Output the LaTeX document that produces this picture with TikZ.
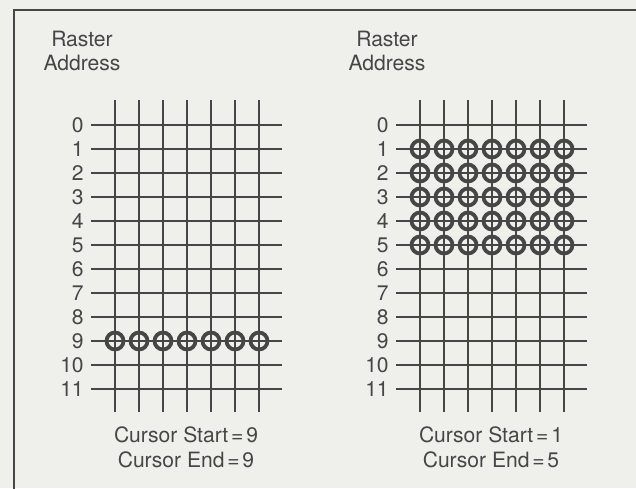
\documentclass[tikz,border=0pt]{standalone}
\usepackage{fontspec}
\setmainfont{TeX Gyre Heros}
\usetikzlibrary{positioning}
\definecolor{ink}{HTML}{464646}
\definecolor{paper}{HTML}{EFEFEC}

\begin{document}
\begin{tikzpicture}[
  x=0.025cm, y=-0.025cm,
  font=\fontsize{15}{17}\selectfont,
  text=ink,
  frame/.style={draw=ink, line width=1.6pt},
  gridline/.style={draw=ink, line width=2pt},
  cursorring/.style={draw=ink, line width=2.7pt},
  rowlabel/.style={anchor=east, inner sep=0pt},
  heading/.style={align=center, inner sep=0pt},
  caption/.style={inner sep=0pt}
]

% Page and frame
\fill[paper] (0,0) rectangle (636,488);
\useasboundingbox (0,0) rectangle (636,488);
\draw[frame] (14,490) |- (640,10);

% Two raster panels: left cursor on line 9, right cursor on lines 1 to 5
\foreach \px/\tag/\first/\last in {115/left/9/9, 420/right/1/5} {
  \begin{scope}[shift={(\px,125)}]
    \node[heading] (\tag head) at (-33,-74) {Raster\\Address};
    \foreach \r in {0,...,11} {
      \draw[gridline] (-24,\r*24) -- (167,\r*24);
      \node[rowlabel] (\tag row\r) at (-31,\r*24) {\r};
    }
    \foreach \c in {0,...,6}
      \draw[gridline] (\c*24,-25) -- (\c*24,287);
    \foreach \r in {\first,...,\last}
      \foreach \c in {0,...,6}
        \draw[cursorring] (\c*24,\r*24) circle[radius=8.5];
    \node[caption] (\tag start) at (71,310) {Cursor Start\kern2pt=\kern2pt\first};
    \node[caption] (\tag end) at (71,335) {Cursor End\kern2pt=\kern2pt\last};
  \end{scope}
}

\end{tikzpicture}
\end{document}
